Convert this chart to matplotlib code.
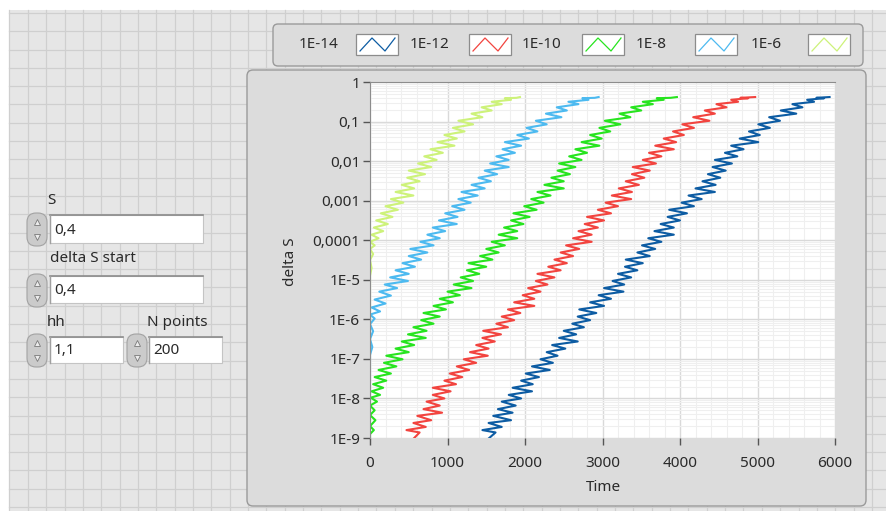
import numpy as np
import matplotlib
matplotlib.use("Agg")
import matplotlib.pyplot as plt
from matplotlib.patches import FancyBboxPatch, Rectangle
from matplotlib.ticker import FixedLocator, MultipleLocator, LogLocator, NullFormatter

plt.rcParams['font.family'] = ['Noto Sans', 'DejaVu Sans']

# Kurven: Zeit und log10(delta S)
series_names = ['1E-14', '1E-12', '1E-10', '1E-8', '1E-6']
series_colors = ['#0d5ca3', '#f2443f', '#27e41f', '#4dbaf0', '#cdf27a']

t_e14 = [1480, 1620, 1450, 1700, 1530, 1820, 1590, 1840, 1650, 1880,
         1700, 1950, 1790, 2090, 1840, 2100, 1950, 2180, 2010, 2320,
         2090, 2360, 2200, 2420, 2280, 2520, 2350, 2680, 2440, 2660,
         2500, 2760, 2610, 2840, 2680, 2920, 2700, 3020, 2840, 3110,
         2950, 3270, 3020, 3280, 3130, 3370, 3200, 3450, 3290, 3520,
         3300, 3610, 3450, 3680, 3510, 3760, 3590, 3920, 3670, 3920,
         3750, 4000, 3840, 4090, 3860, 4180, 4020, 4280, 4110, 4450,
         4200, 4460, 4290, 4520, 4360, 4590, 4420, 4670, 4450, 4740,
         4580, 4820, 4660, 5010, 4770, 5030, 4890, 5160, 5010, 5290,
         5150, 5500, 5300, 5580, 5450, 5730, 5640, 5860, 5760, 5930]
lg_e14 = [-9.10, -8.86, -8.80, -8.72, -8.62, -8.55, -8.44, -8.36, -8.27, -8.18,
          -8.08, -8.00, -7.91, -7.82, -7.73, -7.64, -7.55, -7.46, -7.37, -7.28,
          -7.19, -7.10, -7.01, -6.92, -6.83, -6.74, -6.65, -6.56, -6.47, -6.38,
          -6.29, -6.20, -6.11, -6.02, -5.93, -5.84, -5.75, -5.66, -5.57, -5.48,
          -5.39, -5.30, -5.21, -5.12, -5.03, -4.94, -4.85, -4.76, -4.67, -4.58,
          -4.49, -4.40, -4.31, -4.22, -4.13, -4.04, -3.95, -3.86, -3.77, -3.68,
          -3.59, -3.50, -3.41, -3.32, -3.23, -3.14, -3.05, -2.96, -2.87, -2.78,
          -2.69, -2.60, -2.51, -2.42, -2.33, -2.24, -2.15, -2.06, -1.97, -1.88,
          -1.79, -1.70, -1.61, -1.52, -1.43, -1.34, -1.25, -1.16, -1.07, -0.98,
          -0.89, -0.80, -0.72, -0.64, -0.56, -0.50, -0.45, -0.41, -0.40, -0.38]

t_e12 = [520, 640, 470, 720, 560, 790, 610, 930, 690, 900,
         730, 960, 810, 1040, 810, 1110, 960, 1190, 1030, 1280,
         1120, 1370, 1210, 1520, 1290, 1530, 1370, 1610, 1450, 1690,
         1460, 1780, 1630, 1860, 1700, 1940, 1780, 2120, 1860, 2120,
         1970, 2200, 2040, 2290, 2140, 2380, 2160, 2460, 2300, 2540,
         2380, 2620, 2460, 2700, 2530, 2860, 2620, 2860, 2690, 2940,
         2770, 3020, 2800, 3110, 2940, 3200, 3040, 3370, 3120, 3380,
         3210, 3470, 3300, 3540, 3380, 3610, 3390, 3690, 3520, 3760,
         3600, 3920, 3680, 3950, 3790, 4050, 3910, 4180, 4030, 4380,
         4170, 4450, 4320, 4600, 4470, 4750, 4660, 4880, 4780, 4970]
lg_e12 = [-9.10, -8.86, -8.80, -8.72, -8.62, -8.55, -8.44, -8.36, -8.27, -8.18,
          -8.08, -8.00, -7.91, -7.82, -7.73, -7.64, -7.55, -7.46, -7.37, -7.28,
          -7.19, -7.10, -7.01, -6.92, -6.83, -6.74, -6.65, -6.56, -6.47, -6.38,
          -6.29, -6.20, -6.11, -6.02, -5.93, -5.84, -5.75, -5.66, -5.57, -5.48,
          -5.39, -5.30, -5.21, -5.12, -5.03, -4.94, -4.85, -4.76, -4.67, -4.58,
          -4.49, -4.40, -4.31, -4.22, -4.13, -4.04, -3.95, -3.86, -3.77, -3.68,
          -3.59, -3.50, -3.41, -3.32, -3.23, -3.14, -3.05, -2.96, -2.87, -2.78,
          -2.69, -2.60, -2.51, -2.42, -2.33, -2.24, -2.15, -2.06, -1.97, -1.88,
          -1.79, -1.70, -1.61, -1.52, -1.43, -1.34, -1.25, -1.16, -1.07, -0.98,
          -0.89, -0.80, -0.72, -0.64, -0.56, -0.50, -0.45, -0.41, -0.40, -0.38]

t_e10 = [0, 0, 50, 0, 70, 0, 60, 0, 90, 10,
         130, 20, 170, 40, 210, 60, 270, 110, 340, 180,
         420, 210, 500, 330, 570, 410, 720, 490, 730, 560,
         820, 660, 900, 690, 980, 820, 1070, 900, 1160, 1000,
         1310, 1080, 1330, 1170, 1410, 1250, 1500, 1270, 1580, 1420,
         1660, 1500, 1740, 1570, 1900, 1660, 1900, 1730, 1980, 1820,
         2060, 1850, 2150, 1990, 2240, 2080, 2330, 2160, 2500, 2250,
         2500, 2340, 2580, 2420, 2650, 2440, 2730, 2570, 2800, 2650,
         2960, 2730, 2990, 2840, 3100, 2960, 3230, 3030, 3360, 3220,
         3500, 3370, 3650, 3520, 3790, 3700, 3880, 3960]
lg_e10 = [-10.0, -8.90, -8.80, -8.70, -8.55, -8.42, -8.30, -8.18, -8.08, -7.98,
          -7.91, -7.82, -7.73, -7.64, -7.55, -7.46, -7.37, -7.28, -7.19, -7.10,
          -7.01, -6.92, -6.83, -6.74, -6.65, -6.56, -6.47, -6.38, -6.29, -6.20,
          -6.11, -6.02, -5.93, -5.84, -5.75, -5.66, -5.57, -5.48, -5.39, -5.30,
          -5.21, -5.12, -5.03, -4.94, -4.85, -4.76, -4.67, -4.58, -4.49, -4.40,
          -4.31, -4.22, -4.13, -4.04, -3.95, -3.86, -3.77, -3.68, -3.59, -3.50,
          -3.41, -3.32, -3.23, -3.14, -3.05, -2.96, -2.87, -2.78, -2.69, -2.60,
          -2.51, -2.42, -2.33, -2.24, -2.15, -2.06, -1.97, -1.88, -1.79, -1.70,
          -1.61, -1.52, -1.43, -1.34, -1.25, -1.16, -1.07, -0.98, -0.89, -0.80,
          -0.72, -0.64, -0.56, -0.50, -0.45, -0.41, -0.40, -0.38]

t_e8 = [0, 0, 30, 0, 40, 0, 60, 0, 130, 20,
        200, 60, 270, 120, 350, 190, 490, 260, 500, 330,
        580, 420, 660, 500, 740, 520, 820, 650, 900, 740,
        970, 810, 1120, 890, 1130, 970, 1220, 1060, 1300, 1140,
        1390, 1180, 1480, 1310, 1560, 1400, 1640, 1480, 1790, 1550,
        1790, 1630, 1870, 1710, 1950, 1740, 2050, 1900, 2160, 2020,
        2280, 2140, 2470, 2270, 2540, 2410, 2690, 2560, 2820, 2740,
        2900, 2950]
lg_e8 = [-8.00, -6.90, -6.70, -6.50, -6.30, -6.12, -5.98, -5.88, -5.80, -5.70,
         -5.60, -5.50, -5.40, -5.30, -5.21, -5.12, -5.03, -4.94, -4.85, -4.76,
         -4.67, -4.58, -4.49, -4.40, -4.31, -4.22, -4.13, -4.04, -3.95, -3.86,
         -3.77, -3.68, -3.59, -3.50, -3.41, -3.32, -3.23, -3.14, -3.05, -2.96,
         -2.87, -2.78, -2.69, -2.60, -2.51, -2.42, -2.33, -2.24, -2.15, -2.06,
         -1.97, -1.88, -1.79, -1.70, -1.61, -1.52, -1.43, -1.34, -1.25, -1.16,
         -1.07, -0.98, -0.89, -0.80, -0.72, -0.64, -0.56, -0.50, -0.45, -0.41,
         -0.40, -0.38]

t_e6 = [0, 0, 20, 0, 40, 0, 60, 0, 110, 20,
        170, 50, 230, 80, 290, 140, 360, 200, 430, 270,
        560, 330, 570, 410, 640, 480, 710, 500, 790, 620,
        860, 700, 940, 780, 1090, 870, 1120, 960, 1220, 1070,
        1330, 1140, 1450, 1310, 1570, 1440, 1700, 1570, 1820, 1740,
        1890, 1935]
lg_e6 = [-6.00, -4.90, -4.70, -4.50, -4.35, -4.22, -4.13, -4.04, -3.95, -3.86,
         -3.77, -3.68, -3.59, -3.50, -3.41, -3.32, -3.23, -3.14, -3.05, -2.96,
         -2.87, -2.78, -2.69, -2.60, -2.51, -2.42, -2.33, -2.24, -2.15, -2.06,
         -1.97, -1.88, -1.79, -1.70, -1.61, -1.52, -1.43, -1.34, -1.25, -1.16,
         -1.07, -0.98, -0.89, -0.80, -0.72, -0.64, -0.56, -0.50, -0.45, -0.41,
         -0.40, -0.38]

all_t = [t_e14, t_e12, t_e10, t_e8, t_e6]
all_lg = [lg_e14, lg_e12, lg_e10, lg_e8, lg_e6]

y_ticks = [1e-9, 1e-8, 1e-7, 1e-6, 1e-5, 1e-4, 1e-3, 1e-2, 1e-1, 1]
y_ticklabels = ['1E-9', '1E-8', '1E-7', '1E-6', '1E-5', '0,0001', '0,001', '0,01', '0,1', '1']
x_ticks = [0, 1000, 2000, 3000, 4000, 5000, 6000]

# Bedienelemente links: (Label, Wert)
ctrl_labels = ['S', 'delta S start', 'hh', 'N points']
ctrl_values = ['0,4', '0,4', '1,1', '200']

W, H = 886, 511
txt = '#2a2a2a'
fs = 11

fig = plt.figure(figsize=(W / 100, H / 100), dpi=100)
fig.patch.set_facecolor('white')

# Hintergrund in Pixelkoordinaten
bg = fig.add_axes([0, 0, 1, 1])
bg.set_xlim(0, W)
bg.set_ylim(H, 0)
bg.axis('off')
bg.add_patch(Rectangle((9, 10), W - 9, H - 10, fc='#e6e6e6', ec='none', zorder=0))
for gx in np.arange(9.5, W, 18.35):
    bg.plot([gx, gx], [10, H], color='#cfcfcf', lw=0.9, zorder=0.5)
for gy in np.arange(13, H, 18.3):
    bg.plot([9, W], [gy, gy], color='#cfcfcf', lw=0.9, zorder=0.5)

# Graph-Panel und Legenden-Panel
bg.add_patch(FancyBboxPatch((247, 70), 619, 436, boxstyle='round,pad=0,rounding_size=6',
                            fc='#dcdcdc', ec='#9a9a9a', lw=1.0, zorder=1))
bg.add_patch(FancyBboxPatch((273, 24), 590, 42, boxstyle='round,pad=0,rounding_size=5',
                            fc='#dcdcdc', ec='#9a9a9a', lw=1.0, zorder=1))

lab_x = [319, 430, 542, 651, 766]
box_x = [356, 469, 582, 695, 808]
for name, c, lx, bx in zip(series_names, series_colors, lab_x, box_x):
    bg.text(lx, 45, name, ha='center', va='center', fontsize=fs, color=txt, zorder=3)
    bg.add_patch(Rectangle((bx, 34), 42, 21, fc='white', ec='#8c8c8c', lw=0.9, zorder=2))
    bg.plot([bx + 4, bx + 16, bx + 29, bx + 39], [51, 38, 51, 38], color=c, lw=0.9, zorder=3)

# Bedienelemente
def spinner(x0, y0):
    bg.add_patch(FancyBboxPatch((x0, y0), 20, 33, boxstyle='round,pad=0,rounding_size=9',
                                fc='#cbcbcb', ec='#a2a2a2', lw=0.8, zorder=2))
    bg.plot(x0 + 10, y0 + 9, marker='^', ms=5, mfc='#ececec', mec='#7a7a7a', mew=0.6, zorder=3)
    bg.plot(x0 + 10, y0 + 24, marker='v', ms=5, mfc='#ececec', mec='#7a7a7a', mew=0.6, zorder=3)

def field(x0, y0, w, h, val):
    bg.add_patch(Rectangle((x0, y0), w, h, fc='white', ec='#c4c4c4', lw=0.8, zorder=2))
    bg.plot([x0, x0 + w], [y0, y0], color='#8c8c8c', lw=1.2, zorder=3)
    bg.plot([x0, x0], [y0, y0 + h], color='#a0a0a0', lw=1.0, zorder=3)
    bg.text(x0 + 4, y0 + h / 2 + 1, val, ha='left', va='center', fontsize=fs, color=txt, zorder=4)

bg.text(47, 201, ctrl_labels[0], ha='left', va='center', fontsize=fs, color=txt, zorder=3)
spinner(27, 213)
field(50, 215, 153, 28, ctrl_values[0])

bg.text(50, 259, ctrl_labels[1], ha='left', va='center', fontsize=fs, color=txt, zorder=3)
spinner(27, 274)
field(50, 276, 153, 27, ctrl_values[1])

bg.text(47, 323, ctrl_labels[2], ha='left', va='center', fontsize=fs, color=txt, zorder=3)
bg.text(147, 323, ctrl_labels[3], ha='left', va='center', fontsize=fs, color=txt, zorder=3)
spinner(27, 334)
field(50, 337, 73, 26, ctrl_values[2])
spinner(127, 334)
field(149, 337, 73, 26, ctrl_values[3])

# Diagramm
ax = fig.add_axes([370 / W, 1 - 438 / H, 465 / W, 356 / H])
ax.set_facecolor('white')
for t, lg, c in zip(all_t, all_lg, series_colors):
    ax.plot(t, np.power(10.0, lg), color=c, lw=1.5)

ax.set_yscale('log')
ax.set_xlim(0, 6000)
ax.set_ylim(1e-9, 1)
ax.yaxis.set_major_locator(FixedLocator(y_ticks))
ax.set_yticklabels(y_ticklabels)
ax.yaxis.set_minor_locator(LogLocator(base=10, subs=np.arange(2, 10)))
ax.yaxis.set_minor_formatter(NullFormatter())
ax.set_xticks(x_ticks)
ax.xaxis.set_minor_locator(MultipleLocator(200))

ax.set_axisbelow(True)
ax.grid(which='major', color='#d9d9d9', lw=1.0)
ax.grid(which='minor', color='#efefef', lw=0.8)
ax.tick_params(which='major', direction='out', length=5, width=1, color='#555555',
               labelsize=fs, labelcolor=txt, pad=2)
ax.tick_params(axis='x', which='major', pad=8)
ax.tick_params(which='minor', length=0)

for side in ['top', 'left']:
    ax.spines[side].set_color('#8c8c8c')
for side in ['bottom', 'right']:
    ax.spines[side].set_visible(False)

fig.text(290 / W, 1 - 262 / H, 'delta S', rotation=90, ha='center', va='center',
         fontsize=fs, color=txt)
fig.text(603 / W, 1 - 487 / H, 'Time', ha='center', va='center', fontsize=fs, color=txt)

fig.savefig('out.png', dpi=100)
